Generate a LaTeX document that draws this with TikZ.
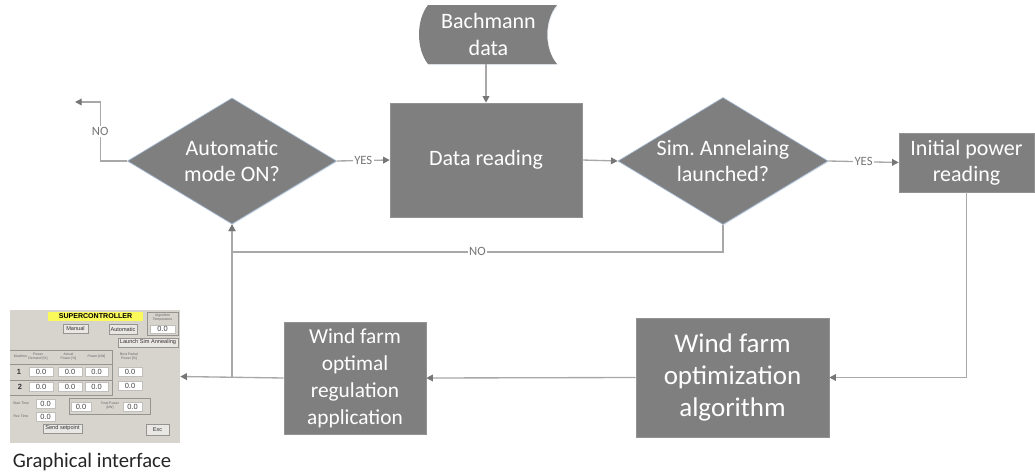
\documentclass[tikz,border=0pt]{standalone}
\usepackage{fontspec}
\setmainfont{Carlito}
\newfontfamily\guifont{Liberation Sans}
\usetikzlibrary{shapes.geometric,arrows.meta,shadows}
\frenchspacing

\definecolor{boxgray}{RGB}{127,127,127}
\definecolor{linegray}{RGB}{168,168,168}
\definecolor{tipgray}{RGB}{118,118,118}
\definecolor{edgeblue}{RGB}{120,150,185}
\definecolor{panel}{RGB}{215,212,206}
\definecolor{gline}{RGB}{150,148,144}
\definecolor{scyellow}{RGB}{250,250,90}

\newcommand{\fmain}{\fontsize{16.5}{19.8}\selectfont}
\newcommand{\fbig}{\fontsize{20.25}{24}\selectfont}
\newcommand{\freg}{\fontsize{16}{20.25}\selectfont}
\newcommand{\flbl}{\fontsize{9.5}{10}\selectfont}

\begin{document}
\begin{tikzpicture}[x=0.75pt,y=-0.75pt,
  soft/.style={drop shadow={shadow xshift=0.6pt,shadow yshift=-0.8pt,opacity=0.35,fill=edgeblue!45}},
  proc/.style={rectangle,fill=boxgray,draw=boxgray!85!white,line width=0.4pt,
    text=white,align=center,inner sep=0pt,soft},
  dec/.style={diamond,fill=boxgray,draw=edgeblue!70,line width=0.5pt,
    text=white,align=center,inner sep=0pt,shape aspect=1.66,font=\fmain,soft},
  conn/.style={draw=linegray,line width=1pt},
  arr/.style={conn,-{Triangle[length=5pt,width=5pt,color=tipgray]}},
  lbl/.style={fill=white,text=tipgray,inner sep=1pt,font=\flbl},
  % widgets of the control panel
  gframe/.style={draw=gline,line width=0.5pt},
  gbox/.style={fill=white,draw=gline!60,line width=0.3pt,inner sep=0pt,
    font=\guifont\fontsize{5.6}{6}\selectfont,text=black!75},
  gbtn/.style={fill=panel!55!white,draw=gline,line width=0.35pt,inner sep=0pt,
    font=\guifont\fontsize{4.2}{5}\selectfont,text=black!80},
  gtiny/.style={inner sep=0pt,align=center,text=black!60,
    font=\guifont\fontsize{2.6}{3}\selectfont},
  gnum/.style={inner sep=0pt,text=black!80,font=\guifont\bfseries\fontsize{5.6}{6}\selectfont}
]
\useasboundingbox (0,0) rectangle (1035,475);

% ---- flowchart blocks ----
\node[dec,minimum width=156.75pt,minimum height=94.5pt] (auto) at (232,161) {Automatic\\mode ON?};
\node[proc,minimum width=144pt,minimum height=85.5pt,font=\fmain] (data) at (486,160) {Data reading};
\node[dec,minimum width=157.5pt,minimum height=95.25pt] (sim) at (723,161) {Sim. Annelaing\\launched?};
\node[proc,minimum width=101.25pt,minimum height=44.25pt,font=\fmain] (init) at (966.5,162.5) {Initial power\\reading};
\node[proc,minimum width=144.75pt,minimum height=89.25pt,font=\fbig] (opt) at (732.5,377.5) {Wind farm\\optimization\\algorithm};
\node[proc,minimum width=106.5pt,minimum height=84pt,font=\freg] (reg) at (355,378) {Wind farm\\optimal\\regulation\\application};

% stored-data symbol for the input source
\fill[boxgray,soft] (428,5) -- (557,5) .. controls (544,20) and (544,49) .. (557,64)
  -- (428,64) .. controls (416,49) and (416,20) .. (428,5) -- cycle;
\node[inner sep=0pt,minimum width=102.75pt,minimum height=44.25pt,text=white,
  align=center,font=\fmain] (bach) at (488.5,34.5) {Bachmann\\data};

% ---- control panel ----
\node[fill=panel,minimum width=127.5pt,minimum height=99.75pt,inner sep=0pt] (gui) at (95,376.5) {};
\node[fill=scyellow,minimum width=71.25pt,minimum height=6.75pt,inner sep=0pt,
  font=\guifont\bfseries\fontsize{5.3}{6}\selectfont] (gtitle) at (95.5,316.5) {SUPERCONTROLLER};
\draw[gframe] (147,312) rectangle (178,335);
\node[gtiny] (gtemptxt) at (162.5,317.5) {Algorithm\\Temperature};
\node[gbox,minimum width=18.75pt,minimum height=6pt] (gtemp) at (162.5,329) {0.0};
\node[gbtn,minimum width=18.75pt,minimum height=6.75pt] (gman) at (75.5,328.5) {Manual};
\node[gbtn,minimum width=21pt,minimum height=7.5pt] (gaut) at (123,329) {Automatic};
\node[gbtn,minimum width=45pt,minimum height=6.75pt] (glaunch) at (148,342.5) {Launch Sim Annealing};

% table of machines
\draw[gframe] (10,350) -- (112,350) -- (112,395) -- (10,395);
\draw[gframe] (10,364) -- (112,364);
\draw[gframe] (10,380) -- (112,380);
\node[gtiny] (gh1) at (20.5,356.5) {Machine};
\node[gtiny] (gh2) at (38,356.5) {Power\\{}Demand [\%]};
\node[gtiny] (gh3) at (68.5,356.5) {Actual\\{}Power [\%]};
\node[gtiny] (gh4) at (96.5,356.5) {Power [kW]};
\node[gtiny] (gh5) at (129,356.5) {Best Partial\\{}Power [\%]};
\node[gnum] (gm1) at (19,371.5) {1};
\node[gnum] (gm2) at (20,387) {2};
\node[gbox,minimum width=18pt,minimum height=6.75pt] (ga1) at (41,371.5) {0.0};
\node[gbox,minimum width=18pt,minimum height=6.75pt] (gb1) at (70,371.5) {0.0};
\node[gbox,minimum width=17.25pt,minimum height=6.75pt] (gc1) at (96.5,371.5) {0.0};
\node[gbox,minimum width=18pt,minimum height=6.75pt] (gd1) at (130,371.5) {0.0};
\node[gbox,minimum width=18pt,minimum height=6.75pt] (ga2) at (41,386.5) {0.0};
\node[gbox,minimum width=18pt,minimum height=6.75pt] (gb2) at (70,386.5) {0.0};
\node[gbox,minimum width=17.25pt,minimum height=6.75pt] (gc2) at (96.5,386.5) {0.0};
\node[gbox,minimum width=18pt,minimum height=6.75pt] (gd2) at (130,385.5) {0.0};

% times and total power
\node[gtiny] (gst) at (21,403.5) {Start Time};
\node[gtiny] (grt) at (21,416.5) {Rec Time};
\node[gbox,minimum width=14.25pt,minimum height=6.75pt] (gstv) at (45.5,403.5) {0.0};
\node[gbox,minimum width=14.25pt,minimum height=6.75pt] (grtv) at (45.5,416.5) {0.0};
\draw[gframe] (69,398) rectangle (150,414);
\node[gbox,minimum width=15pt,minimum height=6.75pt] (gt1) at (81,406.5) {0.0};
\node[gtiny] (gtt) at (110,405.5) {Total Power\\{}[kW]};
\node[gbox,minimum width=14.25pt,minimum height=6.75pt] (gt2) at (132.5,406.5) {0.0};
\node[gbtn,minimum width=29.25pt,minimum height=6.75pt] (gsend) at (62.5,428.5) {Send setpoint};
\node[gbtn,minimum width=17.25pt,minimum height=8.25pt] (gexc) at (157.5,429.5) {Exc};

\node[font=\fontsize{15.5}{17}\selectfont,text=black!85] (cap) at (92,462) {Graphical interface};

% ---- connectors ----
\draw[arr] (data.north |- bach.south) -- (data.north);
\draw[arr] (auto.east) -- node[lbl]{YES} (data.west);
\draw[arr] (data.east) -- (sim.west);
\draw[arr] (sim.east) -- node[lbl]{YES} (init.west);
\coordinate (noend) at (75,102);
\draw[arr] (auto.west) -- ++(-27,0) |- node[pos=0.25,lbl]{NO} (noend);
\draw[arr] (sim.south) -- ++(0,27) -| node[pos=0.25,lbl]{NO} (auto.south);
\draw[arr] (init.south) |- (opt.east);
\draw[arr] (opt.west) -- (reg.east);
\draw[arr] (reg.west) -- (gui.east);
\draw[arr] (reg.west -| auto.south) -- (auto.south);
\end{tikzpicture}
\end{document}
